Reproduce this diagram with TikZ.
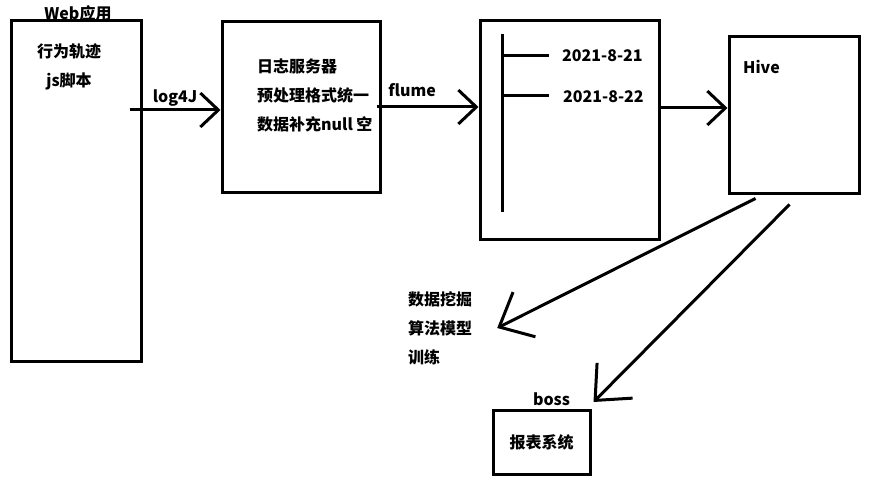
\documentclass[tikz,border=0pt]{standalone}
\usepackage{fontspec}
\setmainfont{Noto Sans CJK SC}
\usepackage{tikz}
\usetikzlibrary{calc,positioning,arrows.meta}

\begin{document}
\begin{tikzpicture}[
    x=1pt, y=-1pt,
    every node/.style={font=\fontsize{16}{29}\selectfont\bfseries, inner sep=0pt},
    box/.style={rectangle, draw=black, line width=3pt, inner sep=0pt},
    txt/.style={align=left},
    arr/.style={-{Straight Barb[length=18pt,width=34pt]}, line width=3pt},
    slant/.style={-{Straight Barb[length=28pt,width=50pt]}, line width=3pt}
]
\useasboundingbox[fill=white] (0,0) rectangle (874,481);

% boxes
\node[box, minimum width=130pt, minimum height=340pt] (web)    at (76,191)    {};
\node[box, minimum width=158pt, minimum height=170pt] (logsrv) at (301,107)   {};
\node[box, minimum width=179pt, minimum height=218pt] (hdfs)   at (569.5,130) {};
\node[box, minimum width=130pt, minimum height=156pt] (hive)   at (794,115)   {};
\node[box, minimum width=97pt, minimum height=64pt]   (report) at (541.5,442.5) {报表系统};

% texts
\node                          (webname) at (78,13)  {Web应用};
\node[align=center]            (webtxt)  at (69,67)  {行为轨迹\\js脚本};
\node[txt, anchor=west]        (logtxt)  at (257,95) {日志服务器\\预处理格式统一\\数据补充null 空};
\node[txt, anchor=west]        (day1)    at (562,56) {2021-8-21};
\node[txt, anchor=west]        (day2)    at (563,97) {2021-8-22};
\node[txt, anchor=west]        (hivetxt) at (743,67) {Hive};
\node[txt, text width=85pt, inner xsep=4pt] (mining) at (450.5,328) {数据挖掘\\算法模型\\训练};
\node[above=3pt of report, xshift=10pt] (boss) {boss};

% partitions in hdfs
\draw[line width=3pt] (502,34) -- (502,212);
\draw[line width=3pt] (502,56) -- (549,56);
\draw[line width=3pt] (502,96) -- (549,96);

% flow
\draw[arr] ([xshift=-13pt,yshift=-3pt]web.east |- logsrv.west) -- ([yshift=-3pt]logsrv.west)
    node[midway, above=2pt] {log4J};
\draw[arr] ([xshift=-5pt]logsrv.east) -- (logsrv.east -| hdfs.west)
    node[pos=0.35, above=9pt] {flume};
\draw[arr] ([yshift=7pt]hive.west -| hdfs.east) -- ([yshift=7pt]hive.west);
\draw[slant] ($(hive.south west)+(28,4)$) -- (mining.east);
\draw[slant] ($(hive.south west)+(62,10)$) -- ([xshift=2pt,yshift=7pt]report.north east);
\end{tikzpicture}
\end{document}
